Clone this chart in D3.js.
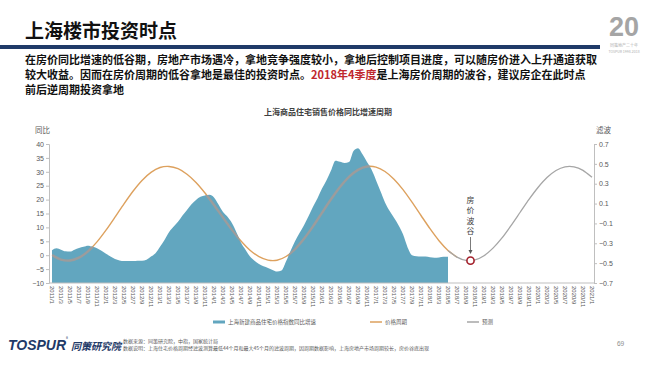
<!DOCTYPE html>
<html><head><meta charset="utf-8">
<script src="https://cdn.jsdelivr.net/npm/d3@7"></script>
<style>
body{margin:0;background:#fff;}
svg{display:block;font-family:"Noto Sans CJK SC","Noto Sans",sans-serif;}
</style>
</head><body>
<svg id="c" width="650" height="365"></svg>
<script>
// ---------- DATA ----------
const xLabels = ["2011/1","2011/3","2011/5","2011/7","2011/9","2011/11",
"2012/1","2012/3","2012/5","2012/7","2012/9","2012/11",
"2013/1","2013/3","2013/5","2013/7","2013/9","2013/11",
"2014/1","2014/3","2014/5","2014/7","2014/9","2014/11",
"2015/1","2015/3","2015/5","2015/7","2015/9","2015/11",
"2016/1","2016/3","2016/5","2016/7","2016/9","2016/11",
"2017/1","2017/3","2017/5","2017/7","2017/9","2017/11",
"2018/1","2018/3","2018/5","2018/7","2018/9","2018/11",
"2019/1","2019/3","2019/5","2019/7","2019/9","2019/11",
"2020/1","2020/3","2020/5","2020/7","2020/9","2020/11",
"2021/1"];
// 上海新建商品住宅价格指数同比增速 (%), monthly from 2011/1 to 2018/5
const yoyValues = [1.8,2.5,2.0,1.4,1.3,2.0,2.6,3.0,3.4,3.0,2.5,1.6,
0.5,-0.5,-1.4,-1.9,-2.1,-2.1,-2.1,-2.0,-2.0,-1.6,-0.5,0.7,
3.0,5.5,8.3,10.2,12.0,14.3,16.3,18.3,19.9,21.0,21.5,21.7,
20.8,18.2,15.5,13.8,11.5,8.2,4.5,2.0,-0.5,-2.0,-3.2,-4.0,
-4.6,-5.3,-5.9,-5.5,-2.3,1.5,5.0,8.0,10.8,14.0,17.4,20.5,
24.0,27.0,30.5,34.0,33.6,33.2,33.5,37.5,38.5,36.3,33.5,30.8,
27.0,23.0,19.0,16.0,13.5,10.8,7.5,2.9,0.0,-0.4,-0.5,-0.5,
-0.7,-0.9,-0.8,-0.6,-0.6];
// 价格周期 (滤波), every two months from 2011/1 to 2018/7
const cycleValues = [-0.418,-0.464,-0.474,-0.445,-0.381,-0.286,-0.168,-0.037,0.097,0.224,
0.333,0.414,0.463,0.474,0.451,0.395,0.312,0.206,0.086,-0.041,
-0.165,-0.277,-0.370,-0.435,-0.470,-0.471,-0.433,-0.360,-0.255,-0.130,
0.007,0.143,0.267,0.369,0.439,0.473,0.467,0.423,0.345,0.240,
0.114,-0.020,-0.153,-0.274,-0.372,-0.440];
// 预测, every two months from 2018/5 to 2021/1
const forecastStartLabel = "2018/5";
const forecastValues = [-0.372,-0.440,-0.473,-0.467,-0.425,-0.349,-0.246,-0.122,0.010,0.142,
0.262,0.362,0.433,0.470,0.470,0.434,0.364];
const leftTicks = [40,35,30,25,20,15,10,5,0,-5,-10];
const rightTicks = [0.7,0.5,0.3,0.1,-0.1,-0.3,-0.5,-0.7];
const troughLabel = "2018/10";
const troughValue = -0.475;
const legendItems = [
  {name:"上海新建商品住宅价格指数同比增速", color:"#62A6BF", w:3},
  {name:"价格周期", color:"#DDA15E", w:1.5},
  {name:"预测", color:"#A6A6A6", w:1.5}
];

// ---------- HELPERS ----------
const monthIndex = s => { const [y,m] = s.split("/").map(Number); return (y-2011)*12 + (m-1); };

const svg = d3.select("#c");
const x = d3.scaleLinear().domain([0,120]).range([52,592]);
const yL = d3.scaleLinear().domain([-10,40]).range([283,144]);
const yR = d3.scaleLinear().domain([-0.7,0.7]).range([283,144]);

// ---------- HEADER ----------
svg.append("text").attr("x",25).attr("y",38).attr("font-size",19).attr("font-weight",700)
  .attr("fill","#111").text("上海楼市投资时点");
svg.append("rect").attr("x",0).attr("y",45).attr("width",600).attr("height",4).attr("fill","#1F3A68");
// logo
svg.append("text").attr("x",624).attr("y",36).attr("text-anchor","middle").attr("font-size",27)
  .attr("font-weight",700).attr("fill","#A5A5A5").attr("font-family","Liberation Sans, Arial").text("20");
svg.append("text").attr("x",624).attr("y",47).attr("text-anchor","middle").attr("font-size",4)
  .attr("fill","#B0B0B0").text("同策地产二十年");
svg.append("text").attr("x",624).attr("y",53).attr("text-anchor","middle").attr("font-size",3.5)
  .attr("fill","#B0B0B0").text("TOSPUR 1998-2018");

const body = svg.append("g").attr("font-size",11).attr("font-weight",700).attr("fill","#111");
body.append("text").attr("x",25).attr("y",64)
  .text("在房价同比增速的低谷期，房地产市场遇冷，拿地竞争强度较小，拿地后控制项目进度，可以随房价进入上升通道获取");
const l2 = body.append("text").attr("x",25).attr("y",79);
l2.append("tspan").text("较大收益。因而在房价周期的低谷拿地是最佳的投资时点。");
l2.append("tspan").attr("fill","#C0272D").text("2018年4季度");
l2.append("tspan").text("是上海房价周期的波谷，建议房企在此时点");
body.append("text").attr("x",25).attr("y",94).text("前后逆周期投资拿地");

// ---------- CHART ----------
svg.append("text").attr("x",328).attr("y",115).attr("text-anchor","middle").attr("font-size",8)
  .attr("font-weight",700).attr("fill","#404040").text("上海商品住宅销售价格同比增速周期");

const cycleData = cycleValues.map((v,i)=>({m:monthIndex(xLabels[i]), v}));
const fStart = xLabels.indexOf(forecastStartLabel);
const forecastData = forecastValues.map((v,i)=>({m:monthIndex(xLabels[fStart+i]), v}));
const yoyData = yoyValues.map((v,i)=>({m:i, v}));

const lineR = d3.line().x(d=>x(d.m)).y(d=>yR(d.v)).curve(d3.curveCardinal.tension(0.3));
const area = d3.area().x(d=>x(d.m)).y0(yL(-10)).y1(d=>yL(d.v)).curve(d3.curveMonotoneX);

svg.append("defs").append("clipPath").attr("id","areaClip")
  .append("path").attr("d", area(yoyData));

svg.append("path").attr("d", lineR(cycleData)).attr("fill","none")
  .attr("stroke","#DDA15E").attr("stroke-width",1.4);
svg.append("path").attr("d", lineR(forecastData)).attr("fill","none")
  .attr("stroke","#A6A6A6").attr("stroke-width",1.3);
svg.append("path").attr("d", area(yoyData)).attr("fill","#62A6BF");
svg.append("path").attr("d", lineR(cycleData)).attr("fill","none").attr("clip-path","url(#areaClip)")
  .attr("stroke","#9C9C9C").attr("stroke-width",2.4);

// axes
const axisColor = "#BFBFBF", tickText = "#595959";
const gL = svg.append("g").attr("transform","translate(49,0)")
  .call(d3.axisLeft(yL).tickValues(leftTicks).tickSize(3).tickPadding(2).tickFormat(d3.format("d")));
const gR = svg.append("g").attr("transform","translate(594,0)")
  .call(d3.axisRight(yR).tickValues(rightTicks).tickSize(3).tickPadding(2).tickFormat(d=>d3.format(".1f")(d)));
[gL,gR].forEach(g=>{
  g.selectAll("path,line").attr("stroke",axisColor);
  g.selectAll("text").attr("font-size",7).attr("fill",tickText).attr("font-family","Liberation Sans, Arial");
});
svg.append("line").attr("x1",49).attr("x2",594).attr("y1",283).attr("y2",283).attr("stroke",axisColor);

svg.append("g").selectAll("text").data(xLabels).join("text")
  .attr("transform",d=>`translate(${x(monthIndex(d))},286) rotate(90)`)
  .attr("dy","0.35em").attr("font-size",6).attr("fill",tickText)
  .attr("font-family","Liberation Sans, Arial").text(d=>d);

svg.append("text").attr("x",35).attr("y",133).attr("font-size",7.5).attr("fill",tickText).text("同比");
svg.append("text").attr("x",596).attr("y",133).attr("font-size",7.5).attr("fill",tickText).text("滤波");

// trough annotation
const tx = x(monthIndex(troughLabel)), ty = yR(troughValue);
const ann = "房价波谷".split("");
svg.append("g").selectAll("text").data(ann).join("text")
  .attr("x",tx).attr("y",(d,i)=>203+i*10.3).attr("text-anchor","middle").attr("font-size",7.8)
  .attr("fill","#404040").text(d=>d);
svg.append("line").attr("x1",tx).attr("x2",tx).attr("y1",237).attr("y2",252)
  .attr("stroke","#595959").attr("stroke-width",0.8);
svg.append("path").attr("d",`M${tx-2},${250} L${tx+2},${250} L${tx},${254} Z`).attr("fill","#595959");
svg.append("circle").attr("cx",tx).attr("cy",ty).attr("r",3.6).attr("fill","#fff")
  .attr("stroke","#A3202B").attr("stroke-width",1.6);

// legend
const legX = [213,370,467];
const lg = svg.append("g");
legendItems.forEach((it,i)=>{
  lg.append("line").attr("x1",legX[i]).attr("x2",legX[i]+12).attr("y1",322).attr("y2",322)
    .attr("stroke",it.color).attr("stroke-width",it.w);
  lg.append("text").attr("x",legX[i]+15).attr("y",324).attr("font-size",5.5).attr("fill","#595959").text(it.name);
});

// footer
svg.append("text").attr("x",8).attr("y",350).attr("font-size",14).attr("font-weight",700)
  .attr("font-style","italic").attr("fill","#1F3A68").attr("font-family","Liberation Sans, Arial").text("TOSPUR");
svg.append("text").attr("x",66).attr("y",340).attr("font-size",4).attr("fill","#1F3A68").text("®");
svg.append("text").attr("x",71).attr("y",350).attr("font-size",10).attr("font-weight",700)
  .attr("font-style","italic").attr("fill","#1F3A68").text("同策研究院");
svg.append("text").attr("x",123).attr("y",343).attr("font-size",5).attr("fill","#595959")
  .text("数据来源：同策研究院，中指，国家统计局");
svg.append("text").attr("x",123).attr("y",350).attr("font-size",5).attr("fill","#595959")
  .text("数据说明：上海住宅价格周期经滤波测算最低44个月和最大45个月的滤波周期，因周期数据影响，上海房地产市场周期较长，房价谷底出现");
svg.append("text").attr("x",617).attr("y",346).attr("font-size",6.5).attr("fill","#8C8C8C")
  .attr("font-family","Liberation Sans, Arial").text("69");
</script>
</body></html>
